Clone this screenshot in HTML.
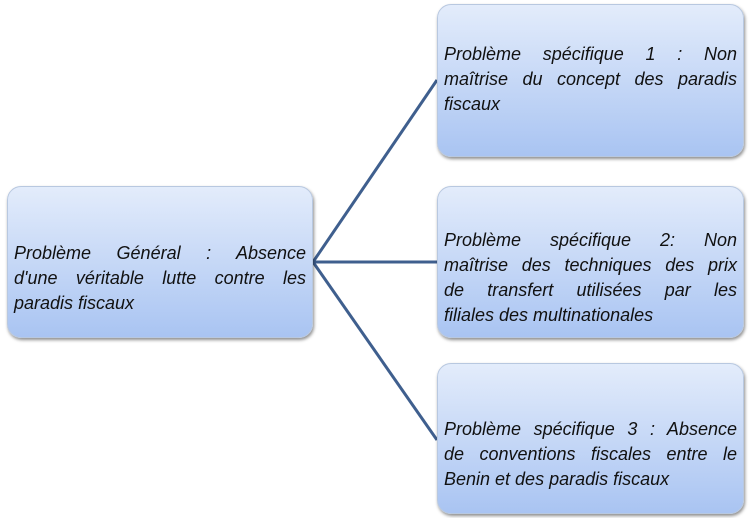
<!DOCTYPE html>
<html><head><meta charset="utf-8"><style>
body{margin:0;width:750px;height:518px;background:#fff;position:relative;overflow:hidden;font-family:"Liberation Sans",sans-serif;}
.b{position:absolute;border-radius:14px;background:linear-gradient(#e3ecfb,#a9c4f2);box-shadow:1px 2px 3px rgba(0,0,0,.45);border:1px solid #b8c8e0;box-sizing:border-box;display:flex;flex-direction:column;justify-content:center;padding:32px 6px 0 6px;font-style:italic;font-size:18px;color:#111;}
.l{text-align:justify;text-align-last:justify;line-height:25px;white-space:nowrap;}
.e{text-align:left;line-height:25px;white-space:nowrap;}
</style></head><body>
<svg width="750" height="518" style="position:absolute;left:0;top:0">
<g stroke="#3f5f8e" stroke-width="3" fill="none">
<line x1="313" y1="262" x2="437" y2="80"/>
<line x1="313" y1="262" x2="437" y2="262"/>
<line x1="313" y1="262" x2="437" y2="440"/>
</g></svg>
<div class="b" style="left:7px;top:186px;width:306px;height:152px">
<div class="l">Problème Général : Absence</div>
<div class="l">d'une véritable lutte contre les</div>
<div class="e">paradis fiscaux</div>
</div>
<div class="b" style="left:437px;top:4px;width:307px;height:153px;justify-content:flex-start;padding-top:37px">
<div class="l">Problème spécifique 1 : Non</div>
<div class="l">maîtrise du concept des paradis</div>
<div class="e">fiscaux</div>
</div>
<div class="b" style="left:437px;top:186px;width:307px;height:152px">
<div class="l">Problème spécifique 2: Non</div>
<div class="l">maîtrise des techniques des prix</div>
<div class="l">de transfert utilisées par les</div>
<div class="e">filiales des multinationales</div>
</div>
<div class="b" style="left:437px;top:363px;width:307px;height:151px">
<div class="l">Problème spécifique 3 : Absence</div>
<div class="l">de conventions fiscales entre le</div>
<div class="e">Benin et des paradis fiscaux</div>
</div>
</body></html>
